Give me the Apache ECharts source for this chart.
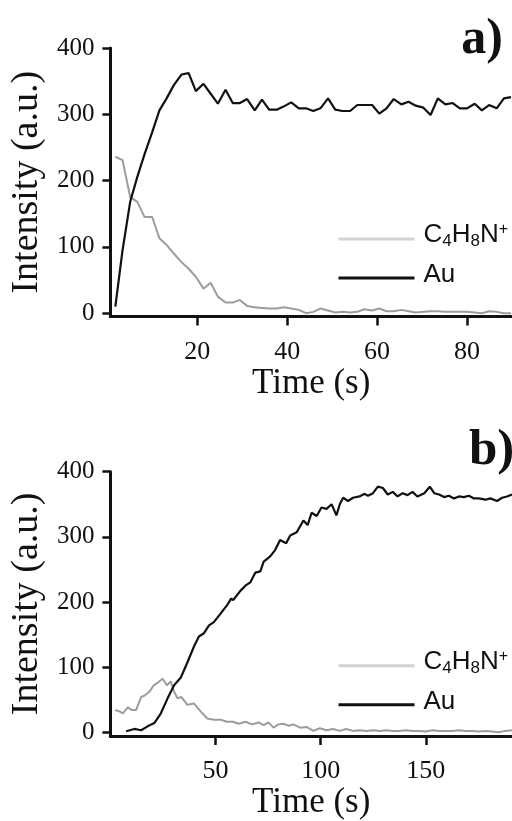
<!DOCTYPE html>
<html>
<head>
<meta charset="utf-8">
<script src="https://cdn.jsdelivr.net/npm/echarts@6/dist/echarts.min.js"></script>
<style>
html,body{margin:0;padding:0;background:#fff;}
#chart{width:512px;height:821px;}
</style>
</head>
<body>
<div id="chart"></div>
<script>
// Panel a
var aTime = [1.8,3.4,5.1,6.7,8.3,10.0,11.6,13.2,14.8,16.5,18.1,19.7,21.4,23.0,24.6,26.3,27.9,29.5,31.1,32.8,34.4,36.0,37.7,39.3,40.9,42.6,44.2,45.8,47.4,49.1,50.7,52.3,54.0,55.6,57.2,58.9,60.5,62.1,63.7,65.4,67.0,68.6,70.3,71.9,73.5,75.2,76.8,78.4,80.0,81.7,83.3,84.9,86.6,88.2,89.8];
var aAu = [10,95,168,206,240,273,306,324,344,360,362,335,346,331,316,337,317,317,323,306,322,307,307,312,318,309,309,305,309,324,307,305,305,314,314,314,301,309,323,315,319,313,310,299,324,315,317,309,309,316,306,314,309,324,326];
var aC4 = [236,231,175,168,145,145,113,103,90,77,67,55,37,46,25,16,16,20,11,9,8,7,7,9,7,5,0,2,7,4,1,2,1,2,6,4,7,3,3,5,3,1,2,3,3,2,2,2,2,1,0,3,2,0,0];
var aXTicks = [20,40,60,80];

// Panel b
var bAuTime = [7.5,11.4,14.6,17.7,20.9,24.0,27.2,30.3,33.5,36.6,39.8,42.1,44.5,46.9,49.2,52.4,55.5,57.4,58.4,61.8,64.2,66.5,68.9,71.3,72.9,76.0,78.4,80.7,83.6,85.5,88.6,91.8,93.8,95.7,98.1,100.4,102.8,105.2,107.5,109.1,110.7,113.0,115.4,118.5,120.9,122.5,124.9,127.2,129.6,131.9,134.3,136.6,139.0,141.3,143.7,146.0,149.3,151.9,154.0,156.3,158.7,161.0,163.4,165.8,168.1,170.5,172.9,175.2,178.4,180.7,183.9,186.3,188.6,191.0];
var bAu = [1.5,5,3,9,14,29,52,72,84,107,132,147,152,164,169,182,195,205,203,217,225,230,245,247,262,270,280,295,290,302,307,325,318,337,332,345,343,350,333,350,360,355,360,362,366,363,367,377,375,365,369,362,367,364,369,362,367,377,367,365,361,363,359,362,361,363,359,359,357,359,355,360,362,365];
var bC4Time = [2.3,4.3,5.9,8.3,10.2,12.2,14.6,16.1,18.5,20.6,22.5,24.8,26.9,28.7,30.3,31.9,33.8,36.6,39.8,42.9,46.1,49.2,52.4,55.5,58.4,61.0,64.2,67.4,70.5,72.9,75.2,77.6,79.9,82.3,84.7,87.0,90.2,93.3,96.5,99.6,102.8,105.9,109.1,112.2,115.4,118.5,121.7,124.8,128.0,131.2,134.3,137.4,140.6,143.7,146.9,150.0,153.2,156.3,159.5,162.6,165.8,168.9,172.1,175.2,178.4,181.5,184.7,187.8,191.0];
var bC4 = [34,32,29,38,34,34,54,56,62,72,76,82,72,78,62,52,54,42,44,32,21,19,19,16,16,13,16,12,15,11,15,7,12,13,10,12,7,8,2,6,3,5,2,5,2,3,2,3,2,3,2,2,3,2,2,1,3,2,2,2,3,2,2,1,2,1,0,2,3];
var bXTicks = [50,100,150];

var yTicks = [0,100,200,300,400];
var seriesNames = ['C4H8N+','Au'];
var panelLabels = ['a)','b)'];
var xTitle = 'Time (s)';
var yTitle = 'Intensity (a.u.)';

function zip(t, v){ var o=[]; for (var i=0;i<t.length;i++) o.push([t[i], v[i]]); return o; }

var SERIF = "'Liberation Serif','Times New Roman',serif";
var SANS = "'Liberation Sans',Arial,sans-serif";
var INK = '#111';
var GRAY = '#9c9c9c';

function xAxis(idx, min, max, ticks, nameGap, margin){
  return {
    type:'value', gridIndex: idx, min:min, max:max,
    name: xTitle, nameLocation:'middle', nameGap: nameGap,
    nameTextStyle:{fontFamily:SERIF, fontSize:35, color:INK},
    axisLine:{show:true, onZero:false, lineStyle:{color:INK, width:3}},
    axisTick:{show:true, customValues:ticks, length:9, lineStyle:{color:INK, width:2.5}},
    axisLabel:{customValues:ticks, fontFamily:SERIF, fontSize:26, color:INK, margin:margin},
    splitLine:{show:false}
  };
}
function yAxis(idx, min){
  return {
    type:'value', gridIndex: idx, min:min, max:400,
    name: yTitle, nameLocation:'middle', nameGap: 60,
    nameTextStyle:{fontFamily:SERIF, fontSize:38, color:INK},
    axisLine:{show:true, onZero:false, lineStyle:{color:INK, width:3}},
    axisTick:{show:true, customValues:yTicks, length:8, lineStyle:{color:INK, width:2.5}},
    axisLabel:{customValues:yTicks, fontFamily:SERIF, fontSize:25, color:INK, margin:16},
    splitLine:{show:false}
  };
}
function legend(top){
  return {
    orient:'vertical', left:332, top:top, itemWidth:76, itemHeight:26, itemGap:12,
    selectedMode:false,
    data:[
      {name:seriesNames[0], lineStyle:{color:'#d2d2d2', width:3}, itemStyle:{opacity:0}},
      {name:seriesNames[1], lineStyle:{color:INK, width:3}, itemStyle:{opacity:0}}
    ],
    formatter:function(n){
      return n === seriesNames[0] ? '{m|C}{s|4}{m|H}{s|8}{m|N}{p|+}' : '{m|' + n + '}';
    },
    textStyle:{
      color:INK, fontFamily:SANS, padding:[0,0,6,4],
      rich:{
        m:{fontFamily:SANS, fontSize:26, lineHeight:26, verticalAlign:'top', color:INK},
        s:{fontFamily:SANS, fontSize:17, lineHeight:28, verticalAlign:'bottom', color:INK},
        p:{fontFamily:SANS, fontSize:16, lineHeight:12, verticalAlign:'top', color:INK}
      }
    }
  };
}
function line(name, data, x, y, color, w){
  return {type:'line', name:name, data:data, xAxisIndex:x, yAxisIndex:y, symbol:'none',
    lineStyle:{color:color, width:w}, itemStyle:{color:color}, z:(color===INK?3:2)};
}

var chart = echarts.init(document.getElementById('chart'), null, {renderer:'canvas'});
chart.setOption({
  animation:false,
  backgroundColor:'#fff',
  grid:[
    {left:108, top:48, width:404, height:268.5},
    {left:108, top:471.7, width:404, height:270}
  ],
  xAxis:[ xAxis(0, 0.7, 90, aXTicks, 37, 23), xAxis(1, 0, 191, bXTicks, 40, 22) ],
  yAxis:[ yAxis(0, -5), yAxis(1, -6) ],
  legend:[ legend(217), legend(643.7) ],
  series:[
    line(seriesNames[0], zip(aTime, aC4), 0, 0, GRAY, 2),
    line(seriesNames[1], zip(aTime, aAu), 0, 0, INK, 2.2),
    line(seriesNames[0], zip(bC4Time, bC4), 1, 1, GRAY, 2),
    line(seriesNames[1], zip(bAuTime, bAu), 1, 1, INK, 2.2)
  ],
  graphic:[
    {type:'text', right:9, top:15, style:{text:panelLabels[0], font:"bold 50px 'Liberation Serif','Times New Roman',serif", fill:INK}},
    {type:'text', left:469, top:425, style:{text:panelLabels[1], font:"bold 51px 'Liberation Serif','Times New Roman',serif", fill:INK}}
  ]
});
</script>
</body>
</html>
